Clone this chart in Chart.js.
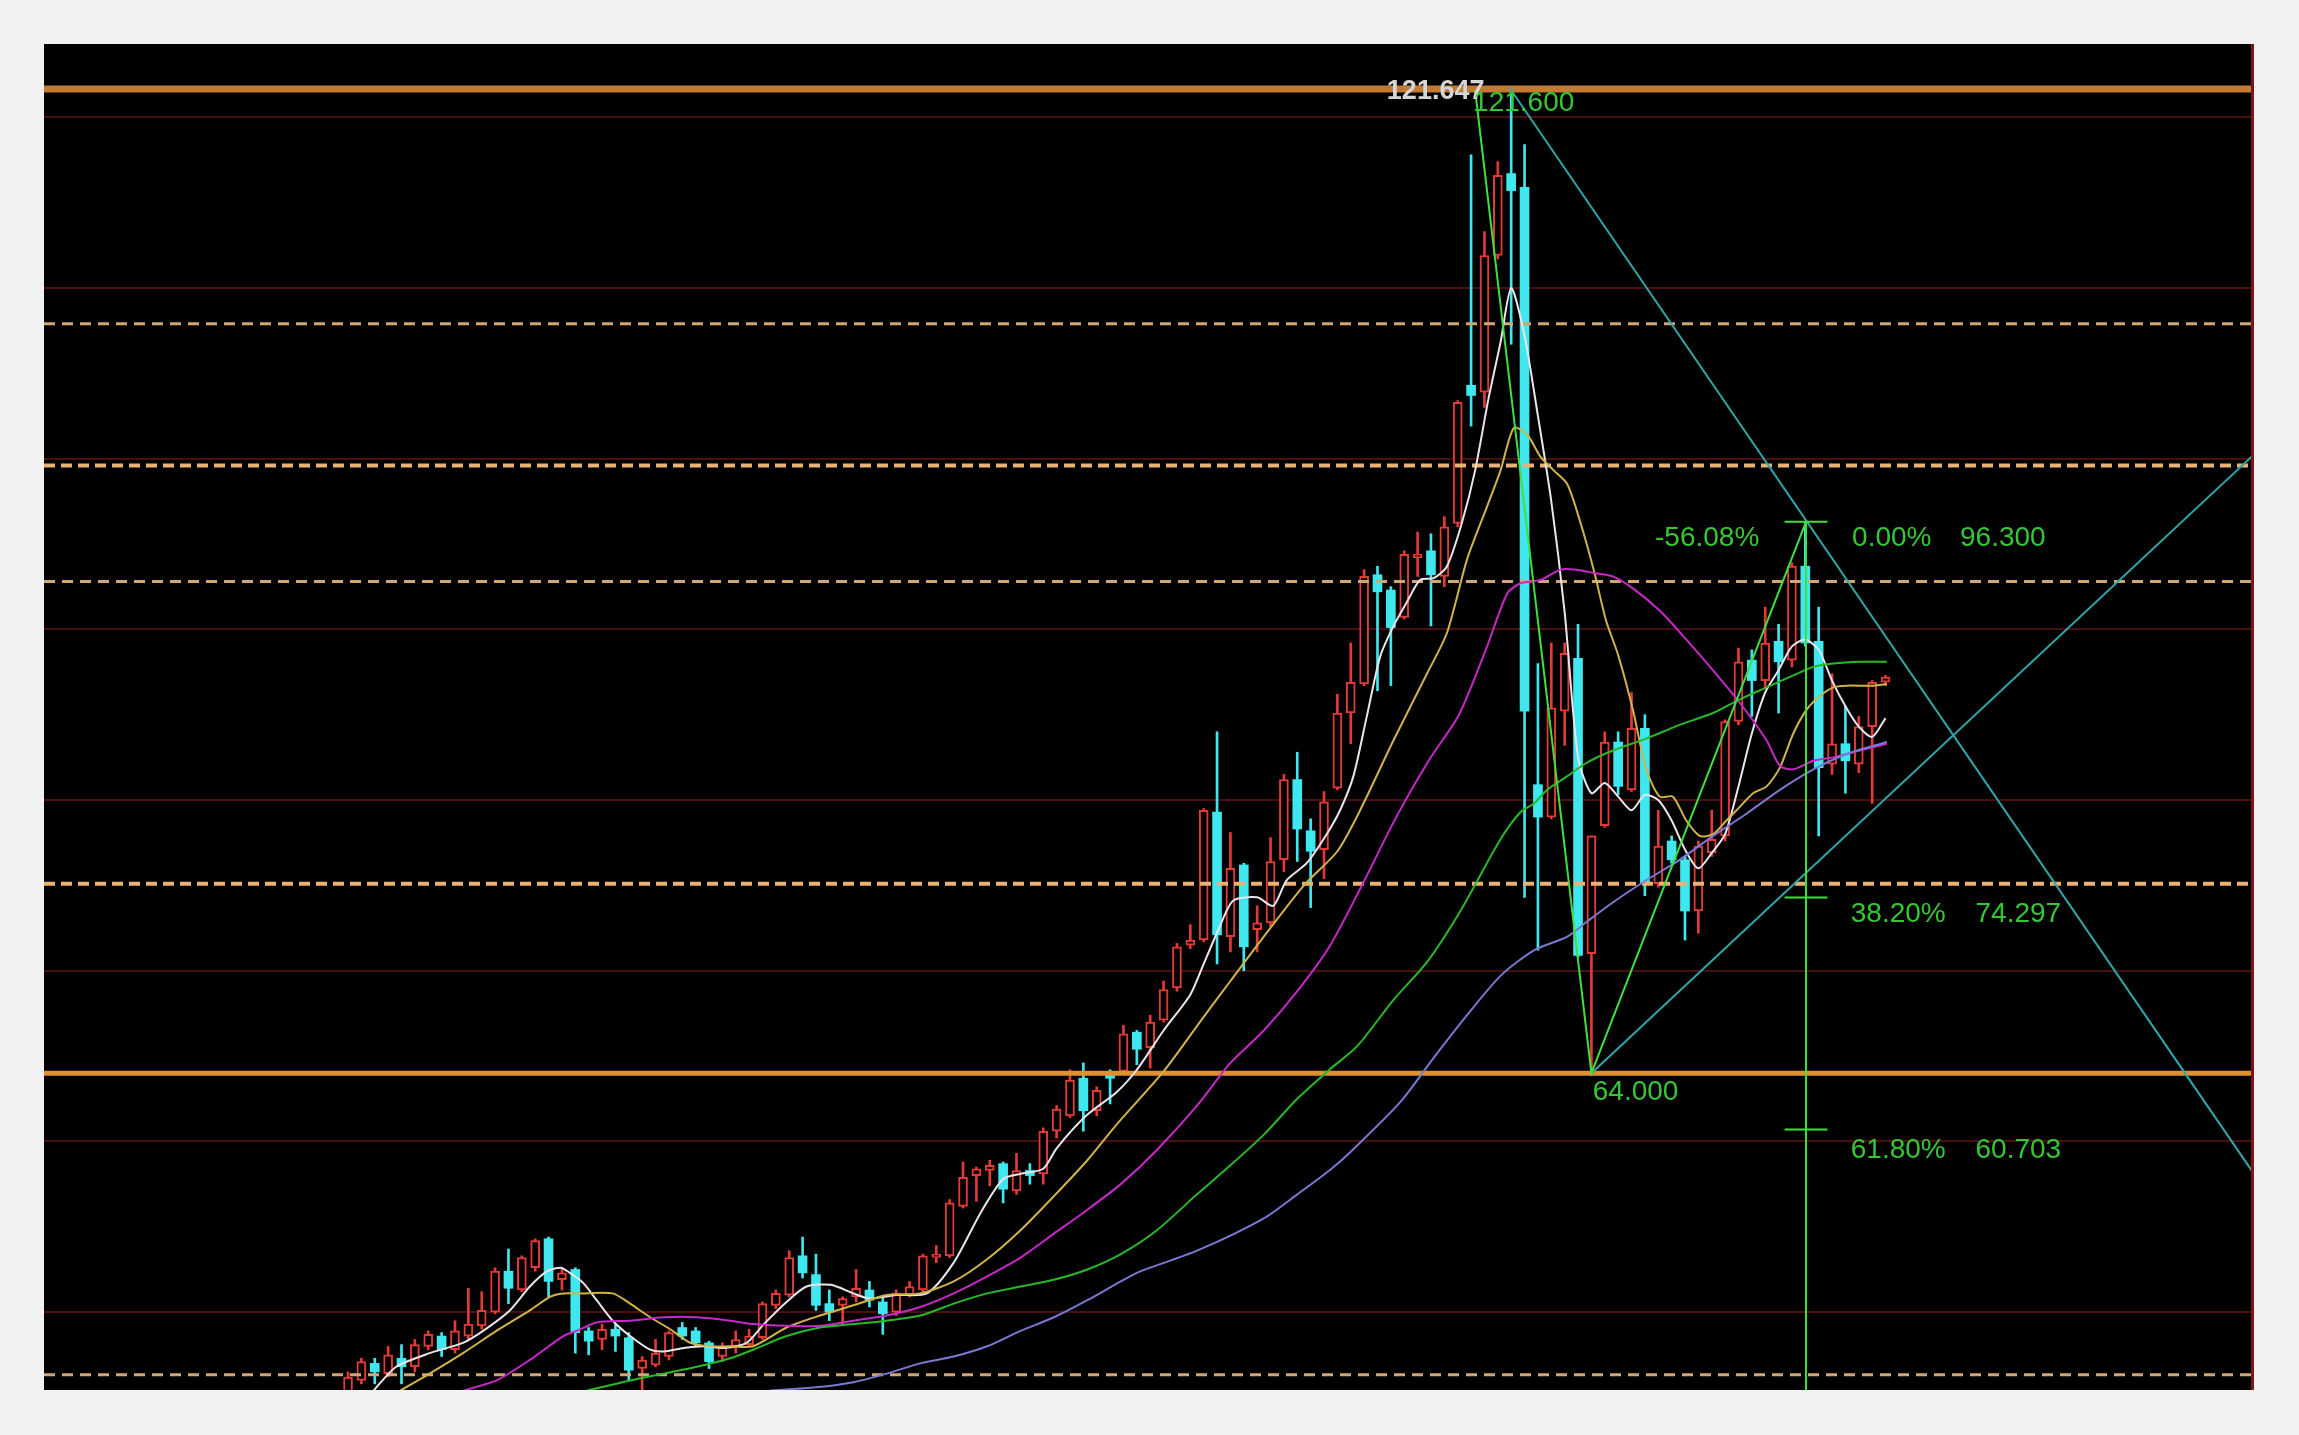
<!DOCTYPE html>
<html><head><meta charset="utf-8">
<script src="https://cdn.jsdelivr.net/npm/chart.js@4.4.1/dist/chart.umd.min.js"></script>
<style>
html,body{margin:0;padding:0;background:#f1f1f1;width:2299px;height:1435px;overflow:hidden;}
#wrap{position:absolute;left:44px;top:44px;width:2210px;height:1346px;background:#000;}
#edge{position:absolute;left:2251px;top:44px;width:3px;height:1346px;background:#7a1818;}
canvas{display:block;}
</style></head><body>
<div id="wrap"><canvas id="c"></canvas></div>
<div id="edge"></div>
<script>
// ---- candles (index 0..115) ----
const opens  = [45.2,46.0,47.0,46.4,47.3,46.8,48.0,48.6,47.8,48.6,49.2,50.0,52.4,51.3,52.6,54.3,51.9,52.5,48.9,48.4,49.0,48.5,46.7,46.9,47.4,49.1,48.9,48.2,47.4,48.0,
  48.1,48.5,50.4,51.0,53.3,52.2,50.5,50.4,50.9,51.3,50.6,50.0,51.0,51.3,53.2,53.3,56.2,58.0,58.3,58.7,57.1,58.3,58.1,60.6,61.5,63.7,61.8,64.1,64.1,66.4,
  65.5,67.1,69.0,71.5,71.8,79.3,72.0,76.2,72.4,72.8,76.5,81.2,78.2,77.1,80.7,85.1,86.8,93.2,92.3,90.7,94.2,94.6,93.1,96.2,104.3,103.9,111.9,116.7,115.9,80.9,
  79.0,85.2,88.3,71.0,78.5,83.4,80.6,84.2,75.1,77.6,76.5,73.5,76.9,77.9,84.6,88.2,87.0,89.3,88.2,93.7,89.3,82.1,83.3,82.1,84.3,86.9];
const highs  = [46.5,47.3,47.3,48.0,48.1,48.4,48.9,48.8,49.5,51.4,51.2,52.6,53.7,53.3,54.3,54.4,52.6,52.6,49.1,49.3,49.3,48.8,47.4,48.4,48.9,49.4,49.1,48.3,48.2,48.9,
  49.0,50.6,51.3,53.6,54.4,53.4,51.3,50.9,52.5,51.8,50.9,51.3,51.8,53.4,53.9,56.6,58.8,58.5,58.9,58.8,59.3,58.7,60.8,62.1,64.2,64.6,63.2,64.2,66.8,66.5,
  67.4,69.4,71.6,72.7,79.5,84.0,78.1,76.3,73.8,77.8,81.5,82.8,78.9,80.5,86.2,89.2,93.5,93.7,92.5,94.6,95.7,95.6,96.6,103.4,117.8,113.3,117.4,121.6,118.4,88.0,
  89.2,89.2,90.3,77.9,84.0,84.0,86.3,85.0,79.4,77.9,76.7,77.6,79.4,84.7,88.9,88.8,91.3,90.3,93.9,96.3,91.3,87.4,85.5,84.9,87.0,87.3];
const lows   = [45.0,45.8,45.8,46.2,45.8,46.5,47.8,47.4,47.6,48.4,49.0,49.9,50.5,51.2,52.4,50.9,51.3,47.6,47.5,47.8,47.7,46.0,45.4,46.8,47.2,48.4,48.0,46.7,47.1,47.6,
  48.0,48.4,50.2,50.9,52.0,50.1,49.5,49.2,50.6,50.3,48.7,49.8,50.9,51.2,52.9,53.2,56.1,56.5,57.4,56.4,56.9,57.5,57.5,60.2,61.4,60.6,61.5,62.2,63.9,64.5,
  64.3,67.0,68.8,71.3,71.7,70.4,71.1,70.0,71.1,72.6,75.8,76.4,73.7,75.4,80.6,83.3,86.7,86.4,86.7,90.6,93.1,90.2,92.5,96.0,101.9,103.0,111.7,106.7,74.3,71.2,
  78.9,83.2,70.8,64.0,78.4,80.3,80.5,74.4,74.9,76.3,71.8,72.2,76.7,77.6,84.4,84.9,86.5,85.1,87.8,89.0,77.9,81.5,80.4,81.6,79.8,86.7];
const closes = [46.2,47.1,46.5,47.5,46.8,48.1,48.7,47.8,48.9,49.3,50.1,52.4,51.4,53.2,54.2,51.8,52.3,48.8,48.3,49.0,48.6,46.6,47.2,47.6,48.8,48.6,48.2,47.1,48.0,48.4,
  48.6,50.5,51.1,53.2,52.3,50.4,50.0,50.8,51.4,50.7,49.9,51.1,51.5,53.3,53.4,56.4,57.9,58.4,58.6,57.2,58.3,58.0,60.6,61.9,63.6,61.8,63.0,63.7,66.3,65.4,
  67.0,68.9,71.4,71.8,79.4,72.1,76.0,71.4,72.8,76.4,81.2,78.3,77.0,79.9,85.1,86.9,93.1,92.2,90.1,94.4,94.4,93.2,96.0,103.3,103.7,111.9,116.6,115.7,85.2,79.0,
  85.4,88.6,70.9,77.9,83.4,80.8,84.2,75.1,77.3,76.5,73.5,77.3,77.7,84.6,88.1,87.0,89.2,88.1,93.7,89.2,81.9,83.3,82.3,84.3,86.9,87.2];
const candleIndex = opens.map((_, i) => i);

// ---- moving averages, [candle index, price] ----
const ma5 = [[1.9,45.4],[3.6,46.8],[6.1,47.6],[8.6,48.2],[10.1,48.9],[12.1,50.1],[13.6,51.5],[14.9,52.4],[15.9,52.6],[16.6,52.3],[17.6,51.7],[18.6,50.7],[19.8,49.5],[21.1,48.6],[22.6,47.8],[23.6,47.7],[25.1,47.9],[26.6,48.0],[28.1,47.9],[29.8,48.2],[31.1,49.3],[32.8,50.6],[34.3,51.5],[36.1,51.6],[37.8,51.1],[39.0,50.8],[41.0,51.0],[43.3,51.1],[45.3,52.9],[47.3,55.8],[49.0,57.8],[50.3,58.1],[52.0,58.4],[53.0,59.6],[55.2,61.5],[57.5,62.9],[59.0,64.2],[61.0,66.5],[63.0,68.6],[64.0,70.4],[65.1,72.4],[66.2,74.1],[68.0,74.3],[69.2,73.8],[70.2,75.3],[71.7,76.3],[73.2,78.0],[74.2,79.4],[75.2,81.4],[76.2,84.9],[77.2,88.4],[78.2,90.2],[79.2,91.6],[80.2,92.9],[81.2,93.0],[82.2,93.7],[83.3,96.2],[84.3,99.3],[85.3,103.5],[86.2,106.8],[87.0,110.0],[88.0,107.2],[89.0,102.5],[90.0,97.5],[91.0,91.0],[92.0,82.5],[93.0,80.4],[94.0,81.0],[95.0,80.2],[96.0,79.4],[97.0,80.3],[98.0,80.0],[99.0,78.8],[100.0,77.1],[101.0,76.0],[102.0,76.9],[103.0,78.0],[104.0,80.8],[105.0,83.9],[106.0,86.3],[107.0,87.6],[108.0,89.0],[109.0,89.4],[110.0,88.8],[111.0,87.0],[112.0,85.5],[113.0,84.3],[114.0,83.7],[115.0,84.8]];
const ma10 = [[3.9,45.4],[6.1,46.4],[8.6,47.6],[11.1,48.9],[13.6,50.1],[15.1,50.9],[16.1,51.1],[17.6,51.1],[19.8,51.1],[21.1,50.5],[22.6,49.7],[24.1,49.0],[25.6,48.2],[27.1,48.0],[28.6,48.0],[30.3,48.0],[32.8,49.1],[35.3,49.8],[37.8,50.4],[40.3,51.0],[42.8,51.1],[45.3,51.8],[47.8,53.1],[50.3,54.8],[52.8,56.8],[55.3,58.9],[57.5,61.0],[61.0,64.1],[64.0,67.3],[66.0,69.4],[68.3,71.8],[71.5,75.0],[74.0,77.0],[75.7,79.4],[78.2,83.5],[80.7,87.4],[82.2,89.8],[83.7,94.1],[85.2,97.2],[86.2,99.3],[87.2,101.8],[88.2,101.4],[89.2,100.1],[90.2,99.3],[91.2,98.5],[92.2,96.2],[93.2,93.4],[94.1,90.5],[95.0,88.5],[96.1,85.3],[97.1,81.8],[98.1,80.2],[99.1,80.2],[100.1,78.8],[101.1,77.9],[102.1,78.0],[103.1,78.8],[104.1,79.6],[105.1,80.4],[106.1,80.8],[107.1,81.9],[108.1,83.9],[109.1,85.3],[110.1,86.1],[111.1,86.6],[112.1,86.7],[114.1,86.7],[115.1,86.8]];
const ma20 = [[8.6,45.4],[11.1,46.0],[13.6,47.2],[16.1,48.6],[17.1,48.9],[18.6,49.4],[21.1,49.5],[23.6,49.7],[26.1,49.7],[28.6,49.5],[30.3,49.3],[32.8,49.2],[35.3,49.2],[37.8,49.5],[40.3,49.8],[42.8,50.3],[45.3,51.1],[47.8,52.1],[50.3,53.2],[52.8,54.6],[55.3,56.0],[57.8,57.5],[60.5,59.5],[63.5,62.1],[66.0,64.6],[68.5,66.5],[71.0,68.8],[73.4,71.4],[75.9,75.1],[78.4,79.0],[80.9,82.4],[83.1,85.0],[85.2,89.0],[86.7,92.1],[87.7,92.7],[89.2,92.9],[90.7,93.5],[91.7,93.5],[93.2,93.3],[94.6,93.1],[96.1,92.4],[98.1,91.1],[100.1,89.4],[102.1,87.6],[104.1,85.7],[106.1,83.5],[107.1,82.0],[108.1,81.8],[109.6,82.3],[111.1,82.5],[112.1,82.7],[113.6,83.0],[115.1,83.3]];
const ma40 = [[17.85,45.4],[21.1,46.0],[23.6,46.4],[26.1,46.8],[28.6,47.3],[30.3,47.8],[32.8,48.6],[35.3,49.1],[37.8,49.3],[40.3,49.5],[42.8,49.8],[45.3,50.5],[47.8,51.1],[50.3,51.5],[52.8,51.9],[55.3,52.5],[57.8,53.4],[60.5,54.8],[63.5,56.9],[66.0,58.6],[68.5,60.4],[71.0,62.5],[73.4,64.2],[75.5,65.6],[78.2,68.3],[80.7,70.5],[83.2,73.5],[86.2,77.7],[87.7,79.3],[88.7,79.8],[89.7,80.6],[91.2,81.4],[92.7,82.2],[94.6,82.9],[97.1,83.6],[99.6,84.4],[102.1,85.1],[104.1,85.9],[106.1,86.6],[108.1,87.3],[109.6,87.8],[111.1,88.0],[113.1,88.1],[115.1,88.1]];
const ma60 = [[31.5,45.4],[35.0,45.6],[37.8,45.9],[40.3,46.4],[42.8,47.0],[45.3,47.4],[47.8,48.0],[50.3,48.9],[52.8,49.7],[55.3,50.7],[57.8,51.8],[59.3,52.4],[63.5,53.6],[68.5,55.5],[71.0,56.9],[73.4,58.3],[75.0,59.4],[78.7,62.3],[81.2,64.9],[83.7,67.4],[86.2,69.7],[88.7,71.2],[91.2,72.0],[92.7,72.9],[94.6,74.0],[97.1,75.3],[99.6,76.5],[102.1,77.9],[104.6,79.2],[107.1,80.6],[109.6,81.8],[112.1,82.7],[115.1,83.4]];

// ---- drawn levels and lines ----
const gridLevels = [50,60,70,80,90,100,110,120];
const topLevel = 121.647;
const thinDashLevels = [107.9, 92.8, 46.33];
const boldDashLevels = [99.6, 75.1];
const lowLevel = 64.0;
const zigzag = [[84.3,121.6],[93.0,64.0],[109.05,96.3]];
const fibX = 109.05;
const fibLevels = [96.3, 74.297, 60.703];
const trendDown = [[86.9,121.7],[142.56,58.1]];
const trendUp = [[93.0,64.0],[142.56,100.25]];
const textMarks = [
  {t:'121.647', x:77.7, y:121.48, k:'white'},
  {t:'121.600', x:84.15, y:120.8, k:'green'},
  {t:'-56.08%', x:97.76, y:95.35, k:'green'},
  {t:'0.00%', x:112.5, y:95.35, k:'green'},
  {t:'96.300', x:120.57, y:95.35, k:'green'},
  {t:'38.20%', x:112.4, y:73.3, k:'green'},
  {t:'74.297', x:121.73, y:73.3, k:'green'},
  {t:'64.000', x:93.1, y:62.9, k:'green'},
  {t:'61.80%', x:112.4, y:59.5, k:'green'},
  {t:'60.703', x:121.73, y:59.5, k:'green'}
];

const X_MIN = -22.74, X_MAX = 142.56, Y_MIN = 45.44, Y_MAX = 124.29;
const RED = '#e43a36', CYAN = '#3ee8ee';
const up = i => closes[i] >= opens[i];
const pts = arr => arr.map(([x, y]) => ({x, y}));
const hline = v => [[X_MIN, v], [X_MAX, v]];

function line(points, color, width, order, dash, tension) {
  return {type:'line', data: pts(points), borderColor: color, borderWidth: width,
    borderDash: dash || [], pointRadius: 0, tension: tension || 0, fill: false, order, borderCapStyle:'butt'};
}

const datasets = [];
// annotation lines (top)
datasets.push(line(zigzag, '#3ee03e', 2, 0));
datasets.push(line([[fibX, fibLevels[0]], [fibX, Y_MIN]], '#3ee03e', 2, 0));
fibLevels.forEach(v => datasets.push(line([[fibX-1.6, v],[fibX+1.6, v]], '#3ee03e', 2, 0)));
datasets.push(line(trendDown, '#2fa6a8', 2, 0));
datasets.push(line(trendUp, '#2fa6a8', 2, 0));
// moving averages
datasets.push(line(ma60, '#7a78d0', 2, 1, null, 0.25));
datasets.push(line(ma40, '#28b828', 2, 1, null, 0.25));
datasets.push(line(ma20, '#c828c8', 2, 1, null, 0.25));
datasets.push(line(ma10, '#d0b448', 2, 1, null, 0.25));
datasets.push(line(ma5, '#ece4ec', 2, 1, null, 0.25));
// levels
datasets.push(line(hline(topLevel), '#c47a32', 7, 2));
datasets.push(line(hline(topLevel), '#4a2a0c', 2, 2));
thinDashLevels.forEach(v => datasets.push(line(hline(v), '#cfa676', 3, 2, [11, 7])));
boldDashLevels.forEach(v => datasets.push(line(hline(v), '#eab270', 4, 2, [11, 6])));
datasets.push(line(hline(lowLevel), '#e0902e', 5, 2));
datasets.push(line(hline(lowLevel), '#f6cf8c', 2, 2, [10, 6]));
// candle bodies
datasets.push({type:'bar', order:3, grouped:false, barThickness:9, minBarLength:2, borderSkipped:false,
  data: candleIndex.map(i => ({x:i, y:[opens[i], closes[i]]})),
  backgroundColor: c => up(c.dataIndex) ? '#000' : CYAN,
  borderColor: c => up(c.dataIndex) ? RED : CYAN,
  borderWidth: c => up(c.dataIndex) ? 2 : 0});
// wicks
datasets.push({type:'bar', order:4, grouped:false, barThickness:2, borderWidth:0,
  data: candleIndex.map(i => ({x:i, y:[lows[i], highs[i]]})),
  backgroundColor: c => up(c.dataIndex) ? RED : CYAN});

const textPlugin = {
  id:'texts',
  afterDatasetsDraw(chart) {
    const {ctx, scales:{x, y}} = chart;
    ctx.save();
    ctx.textAlign = 'left'; ctx.textBaseline = 'middle';
    textMarks.forEach(m => {
      if (m.k === 'white') { ctx.font = 'bold 27px "Liberation Sans", Arial, sans-serif'; ctx.fillStyle = '#d6d6d6'; }
      else { ctx.font = '28px "Liberation Sans", Arial, sans-serif'; ctx.fillStyle = '#34c834'; }
      ctx.fillText(m.t, x.getPixelForValue(m.x), y.getPixelForValue(m.y));
    });
    ctx.restore();
  }
};

new Chart(document.getElementById('c'), {
  type:'bar',
  data:{datasets},
  options:{
    responsive:true, maintainAspectRatio:false, animation:false, events:[],
    layout:{padding:0},
    plugins:{legend:{display:false}, tooltip:{enabled:false}},
    scales:{
      x:{type:'linear', min:X_MIN, max:X_MAX, offset:false, display:false},
      y:{type:'linear', min:Y_MIN, max:Y_MAX, ticks:{display:false},
         grid:{color:'#4a0f0f', lineWidth:2, drawTicks:false}, border:{display:false},
         afterBuildTicks: axis => { axis.ticks = gridLevels.map(v => ({value:v})); }}
    }
  },
  plugins:[textPlugin]
});
</script>
</body></html>
